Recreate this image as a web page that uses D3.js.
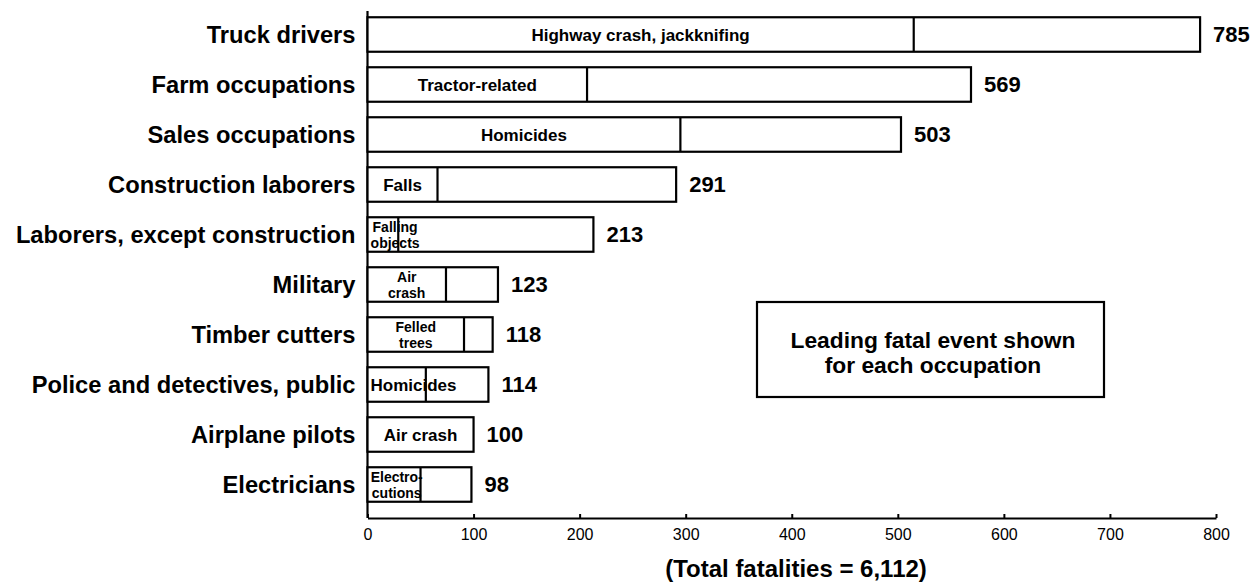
<!DOCTYPE html>
<html>
<head>
<meta charset="utf-8">
<script src="https://cdn.jsdelivr.net/npm/d3@7"></script>
<style>
  html, body { margin: 0; padding: 0; background: #fff; }
  svg { display: block; font-family: "Liberation Sans", Arial, sans-serif; }
</style>
</head>
<body>
<svg id="chart" width="1256" height="586"></svg>
<script>
const occupations = [
  'Truck drivers',
  'Farm occupations',
  'Sales occupations',
  'Construction laborers',
  'Laborers, except construction',
  'Military',
  'Timber cutters',
  'Police and detectives, public',
  'Airplane pilots',
  'Electricians',
];
const totals = [785, 569, 503, 291, 213, 123, 118, 114, 100, 98];
// fatalities from the leading event (left segment of each bar)
const leadingEvent = [515, 207, 295, 66, 29, 74, 91, 55, 100, 50];
const eventLabels = [
  ['Highway crash, jackknifing'],
  ['Tractor-related'],
  ['Homicides'],
  ['Falls'],
  ['Falling', 'objects'],
  ['Air', 'crash'],
  ['Felled', 'trees'],
  ['Homicides'],
  ['Air crash'],
  ['Electro-', 'cutions'],
];
const xTicks = [0, 100, 200, 300, 400, 500, 600, 700, 800];
const noteLines = ['Leading fatal event shown', 'for each occupation'];
const totalNote = '(Total fatalities = 6,112)';

const data = occupations.map((name, i) => ({
  name,
  total: totals[i],
  lead: leadingEvent[i],
  label: eventLabels[i],
}));

const svg = d3.select('#chart');

const x = d3.scaleLinear().domain([0, 800]).range([367.5, 1216]);
const y = d3
  .scaleBand()
  .domain(occupations)
  .range([9.5, 509.5])
  .paddingInner(0.31)
  .paddingOuter(0.155);

const axisY = 518;

// x axis, ticks pointing up into the plot
const xAxis = svg
  .append('g')
  .attr('transform', `translate(0, ${axisY})`)
  .call(d3.axisBottom(x).tickValues(xTicks).tickSize(-4).tickPadding(10).tickSizeOuter(0));
xAxis.select('.domain').attr('stroke', '#000').attr('stroke-width', 2.2);
xAxis.selectAll('.tick line').attr('stroke', '#000').attr('stroke-width', 2);
xAxis
  .selectAll('.tick text')
  .attr('y', 11)
  .attr('dy', '0.71em')
  .style('font-size', '16px')
  .style('font-family', '"Liberation Sans", Arial, sans-serif')
  .attr('fill', '#000');

// vertical axis line
svg
  .append('line')
  .attr('x1', x(0))
  .attr('x2', x(0))
  .attr('y1', 11)
  .attr('y2', axisY)
  .attr('stroke', '#000')
  .attr('stroke-width', 2.2);

const rows = svg
  .append('g')
  .selectAll('g')
  .data(data)
  .enter()
  .append('g')
  .attr('transform', d => `translate(0, ${y(d.name)})`);

const bh = y.bandwidth();

// full bar
rows
  .append('rect')
  .attr('x', x(0))
  .attr('y', 0)
  .attr('width', d => x(d.total) - x(0))
  .attr('height', bh)
  .attr('fill', '#fff')
  .attr('stroke', '#000')
  .attr('stroke-width', 2.2);

// divider between leading event and the rest
rows
  .filter(d => d.lead < d.total)
  .append('line')
  .attr('x1', d => x(d.lead))
  .attr('x2', d => x(d.lead))
  .attr('y1', 0)
  .attr('y2', bh)
  .attr('stroke', '#000')
  .attr('stroke-width', 2.2);

// occupation names
rows
  .append('text')
  .attr('x', x(0) - 12)
  .attr('y', bh / 2)
  .attr('dy', '0.36em')
  .attr('text-anchor', 'end')
  .style('font-size', '23.7px')
  .style('font-weight', 'bold')
  .text(d => d.name);

// totals
rows
  .append('text')
  .attr('x', d => x(d.total) + 13)
  .attr('y', bh / 2)
  .attr('dy', '0.36em')
  .style('font-size', '22px')
  .style('font-weight', 'bold')
  .text(d => d.total);

// leading event label, centred in the first segment but kept inside the bar start
rows.each(function (d) {
  const g = d3.select(this);
  const two = d.label.length > 1;
  const t = g
    .append('text')
    .attr('text-anchor', 'middle')
    .style('font-size', two ? '14px' : '17px')
    .style('font-weight', 'bold');
  d.label.forEach((line, i) => {
    t.append('tspan')
      .attr('x', 0)
      .attr('y', two ? bh / 2 - 3 + i * 16 : bh / 2)
      .attr('dy', two ? 0 : '0.36em')
      .text(line);
  });
  const w = t.node().getBBox().width;
  const cx = Math.max((x(0) + x(d.lead)) / 2, x(0) + 3 + w / 2);
  t.selectAll('tspan').attr('x', cx);
});

// annotation box
const note = svg.append('g');
note
  .append('rect')
  .attr('x', 757)
  .attr('y', 302)
  .attr('width', 347)
  .attr('height', 95)
  .attr('fill', '#fff')
  .attr('stroke', '#000')
  .attr('stroke-width', 2.2);
note
  .selectAll('text')
  .data(noteLines)
  .enter()
  .append('text')
  .attr('x', 933)
  .attr('y', (d, i) => 348 + i * 25)
  .attr('text-anchor', 'middle')
  .style('font-size', '22.8px')
  .style('font-weight', 'bold')
  .text(d => d);

// total note under the axis
svg
  .append('text')
  .attr('x', 796)
  .attr('y', 577)
  .attr('text-anchor', 'middle')
  .style('font-size', '24px')
  .style('font-weight', 'bold')
  .text(totalNote);
</script>
</body>
</html>
